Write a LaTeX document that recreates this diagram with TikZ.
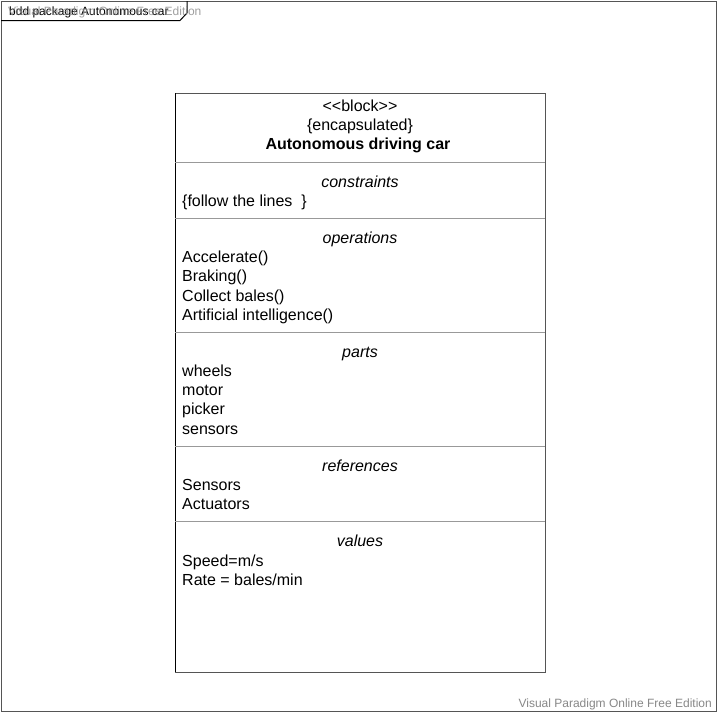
\documentclass[tikz,border=0pt]{standalone}
\usepackage{fontspec}
\setmainfont{Liberation Sans}
\definecolor{divgray}{HTML}{999999}
\definecolor{boxgray}{HTML}{555555}
\definecolor{wmgray}{HTML}{888888}
\begin{document}
\begin{tikzpicture}[x=1pt,y=-1pt,
  txt/.style={inner sep=0pt,font=\fontsize{16}{19}\selectfont},
  lft/.style={txt,anchor=mid west},
  ctr/.style={txt,anchor=mid},
  wm/.style={inner sep=0pt,font=\fontsize{12}{14}\selectfont,text=wmgray}]
\useasboundingbox (0,0) rectangle (718,713);
\fill[white] (0,0) rectangle (718,713);
% frame
\draw[boxgray,line width=1pt] (1,1) rectangle (716,711);
\draw[black,line width=1pt] (1,20.5) -- (180,20.5) -- (187,13) -- (187,1);
\node[inner sep=0pt,anchor=mid west,font=\fontsize{12}{14}\selectfont] (frametitle) at (9,13) {bdd package Autonomous car};
\node[wm,anchor=mid west,opacity=0.8] (wmtop) at (8,13) {Visual Paradigm Online Free Edition};
\node[wm,anchor=mid east] (wmbottom) at (712,705) {Visual Paradigm Online Free Edition};
% block
\coordinate (tl) at (175,93);
\coordinate (br) at (545,672);
\draw[boxgray,line width=1pt] (tl) rectangle (br);
\draw[black,line width=1pt] (175,93) -- (175,672);
\foreach \yy in {162,218,332,446,521}
  \draw[divgray,line width=1pt] (175,\yy) -- (545,\yy);
\begin{scope}[yshift=-4pt]
\node[ctr] (stereo) at (360,105) {{<}{<}block{>}{>}};
\node[ctr] (encap) at (360,124) {\{encapsulated\}};
\node[ctr,font=\fontsize{16}{19}\selectfont\bfseries] (name) at (358,143) {Autonomous driving car};
\node[ctr,font=\fontsize{16}{19}\selectfont\itshape] (cons) at (360,181) {constraints};
\node[lft] (c1) at (182,200) {\{follow the lines\ \ \}};
\node[ctr,font=\fontsize{16}{19}\selectfont\itshape] (ops) at (360,237) {operations};
\node[lft] (o1) at (182,256) {Accelerate()};
\node[lft] (o2) at (182,275) {Braking()};
\node[lft] (o3) at (182,295) {Collect bales()};
\node[lft] (o4) at (182,314) {Artificial intelligence()};
\node[ctr,font=\fontsize{16}{19}\selectfont\itshape] (parts) at (360,351) {parts};
\node[lft] (p1) at (182,370) {wheels};
\node[lft] (p2) at (182,389) {motor};
\node[lft] (p3) at (182,408) {picker};
\node[lft] (p4) at (182,428) {sensors};
\node[ctr,font=\fontsize{16}{19}\selectfont\itshape] (refs) at (360,465) {references};
\node[lft] (r1) at (182,484) {Sensors};
\node[lft] (r2) at (182,503) {Actuators};
\node[ctr,font=\fontsize{16}{19}\selectfont\itshape] (vals) at (360,540) {values};
\node[lft] (v1) at (182,560) {Speed=m/s};
\node[lft] (v2) at (182,579) {Rate = bales/min};
\end{scope}
\end{tikzpicture}
\end{document}
